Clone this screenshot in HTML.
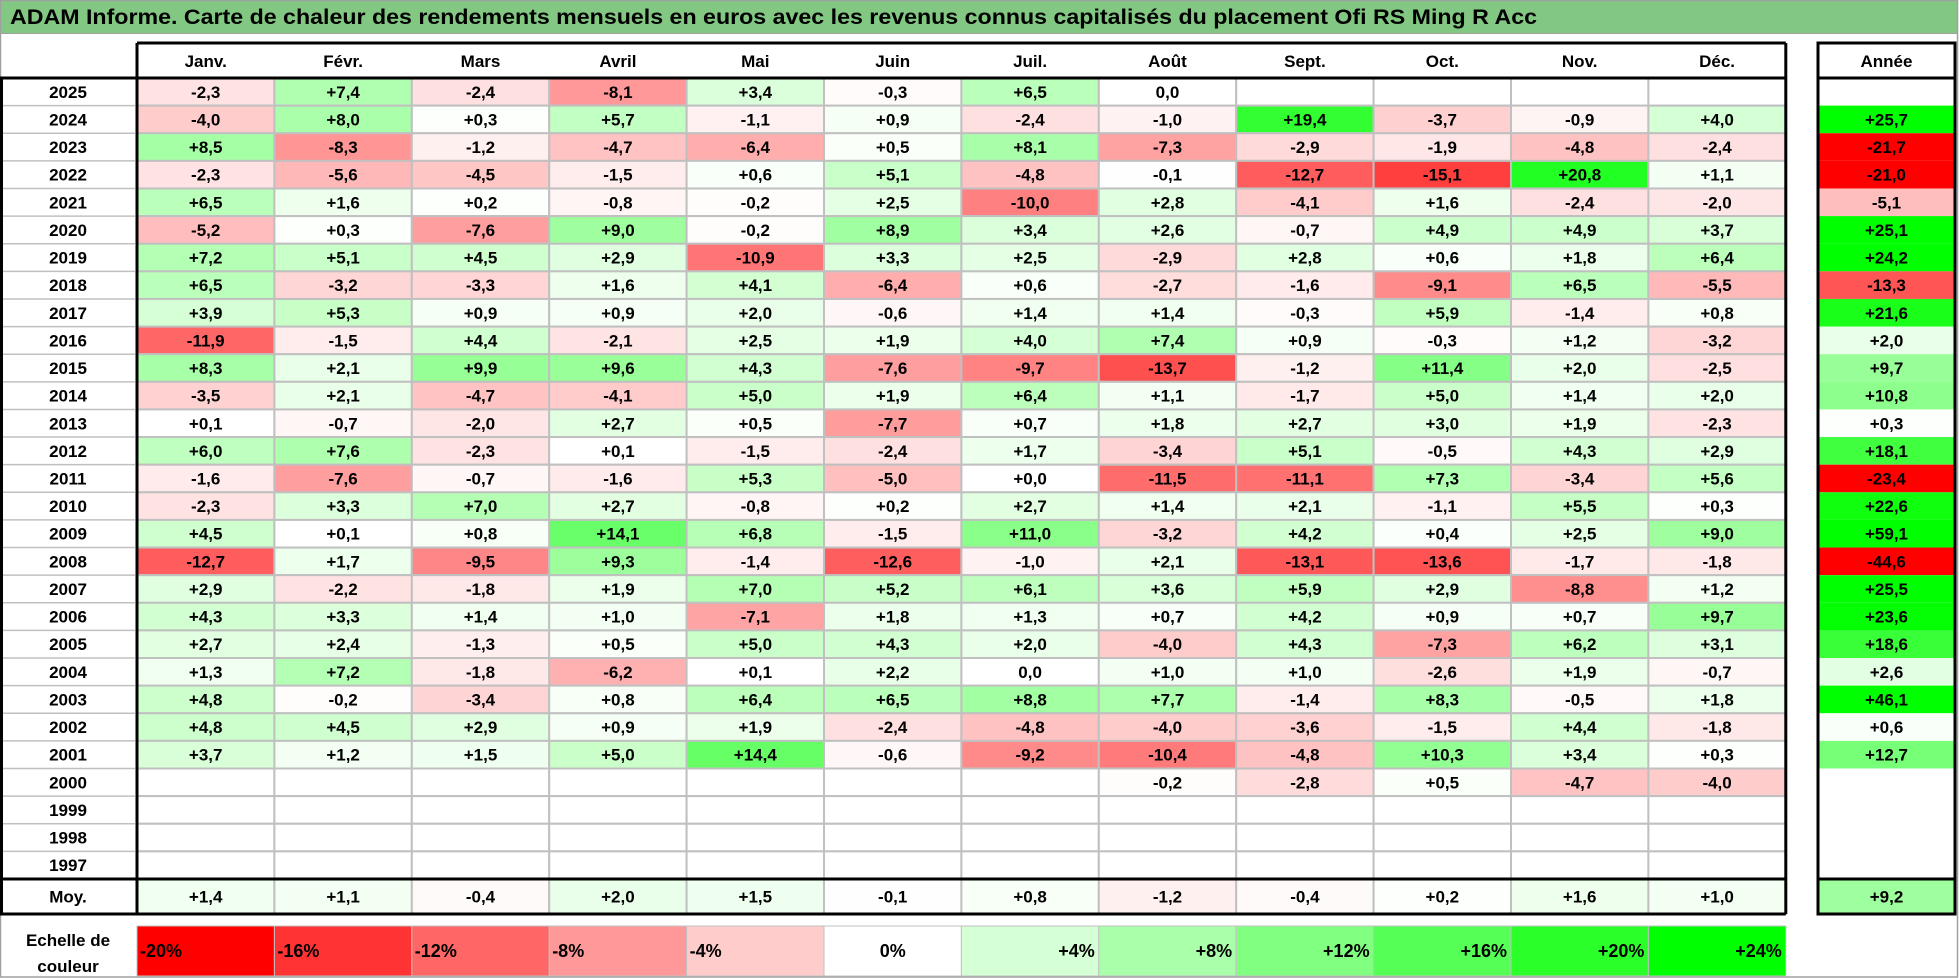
<!DOCTYPE html>
<html><head><meta charset="utf-8"><style>
html,body{margin:0;padding:0;background:#fff;}
svg{display:block;font-family:"Liberation Sans",Arial,sans-serif;font-weight:bold;}
</style></head><body>
<svg id="chart" width="1959" height="978" viewBox="0 0 1959 978"></svg>
<script>
const months = ["Janv.","Févr.","Mars","Avril","Mai","Juin","Juil.","Août","Sept.","Oct.","Nov.","Déc."];
const years = ["2025","2024","2023","2022","2021","2020","2019","2018","2017","2016","2015","2014","2013","2012","2011","2010","2009","2008","2007","2006","2005","2004","2003","2002","2001","2000","1999","1998","1997"];
const N = null;
const monthly = [
[-2.3,7.4,-2.4,-8.1,3.4,-0.3,6.5,0.0,N,N,N,N],
[-4.0,8.0,0.3,5.7,-1.1,0.9,-2.4,-1.0,19.4,-3.7,-0.9,4.0],
[8.5,-8.3,-1.2,-4.7,-6.4,0.5,8.1,-7.3,-2.9,-1.9,-4.8,-2.4],
[-2.3,-5.6,-4.5,-1.5,0.6,5.1,-4.8,-0.1,-12.7,-15.1,20.8,1.1],
[6.5,1.6,0.2,-0.8,-0.2,2.5,-10.0,2.8,-4.1,1.6,-2.4,-2.0],
[-5.2,0.3,-7.6,9.0,-0.2,8.9,3.4,2.6,-0.7,4.9,4.9,3.7],
[7.2,5.1,4.5,2.9,-10.9,3.3,2.5,-2.9,2.8,0.6,1.8,6.4],
[6.5,-3.2,-3.3,1.6,4.1,-6.4,0.6,-2.7,-1.6,-9.1,6.5,-5.5],
[3.9,5.3,0.9,0.9,2.0,-0.6,1.4,1.4,-0.3,5.9,-1.4,0.8],
[-11.9,-1.5,4.4,-2.1,2.5,1.9,4.0,7.4,0.9,-0.3,1.2,-3.2],
[8.3,2.1,9.9,9.6,4.3,-7.6,-9.7,-13.7,-1.2,11.4,2.0,-2.5],
[-3.5,2.1,-4.7,-4.1,5.0,1.9,6.4,1.1,-1.7,5.0,1.4,2.0],
[0.1,-0.7,-2.0,2.7,0.5,-7.7,0.7,1.8,2.7,3.0,1.9,-2.3],
[6.0,7.6,-2.3,0.1,-1.5,-2.4,1.7,-3.4,5.1,-0.5,4.3,2.9],
[-1.6,-7.6,-0.7,-1.6,5.3,-5.0,0.01,-11.5,-11.1,7.3,-3.4,5.6],
[-2.3,3.3,7.0,2.7,-0.8,0.2,2.7,1.4,2.1,-1.1,5.5,0.3],
[4.5,0.1,0.8,14.1,6.8,-1.5,11.0,-3.2,4.2,0.4,2.5,9.0],
[-12.7,1.7,-9.5,9.3,-1.4,-12.6,-1.0,2.1,-13.1,-13.6,-1.7,-1.8],
[2.9,-2.2,-1.8,1.9,7.0,5.2,6.1,3.6,5.9,2.9,-8.8,1.2],
[4.3,3.3,1.4,1.0,-7.1,1.8,1.3,0.7,4.2,0.9,0.7,9.7],
[2.7,2.4,-1.3,0.5,5.0,4.3,2.0,-4.0,4.3,-7.3,6.2,3.1],
[1.3,7.2,-1.8,-6.2,0.1,2.2,0.0,1.0,1.0,-2.6,1.9,-0.7],
[4.8,-0.2,-3.4,0.8,6.4,6.5,8.8,7.7,-1.4,8.3,-0.5,1.8],
[4.8,4.5,2.9,0.9,1.9,-2.4,-4.8,-4.0,-3.6,-1.5,4.4,-1.8],
[3.7,1.2,1.5,5.0,14.4,-0.6,-9.2,-10.4,-4.8,10.3,3.4,0.3],
[N,N,N,N,N,N,N,-0.2,-2.8,0.5,-4.7,-4.0],
[N,N,N,N,N,N,N,N,N,N,N,N],
[N,N,N,N,N,N,N,N,N,N,N,N],
[N,N,N,N,N,N,N,N,N,N,N,N]];
const annual = [N,25.7,-21.7,-21.0,-5.1,25.1,24.2,-13.3,21.6,2.0,9.7,10.8,0.3,18.1,-23.4,22.6,59.1,-44.6,25.5,23.6,18.6,2.6,46.1,0.6,12.7,N,N,N,N];
const averages = [1.4,1.1,-0.4,2.0,1.5,-0.1,0.8,-1.2,-0.4,0.2,1.6,1.0];
const averageYear = 9.2;
const scaleValues = [-20,-16,-12,-8,-4,0,4,8,12,16,20,24];

const NS="http://www.w3.org/2000/svg";
const svg=document.getElementById('chart');
function el(tag,attrs,parent){const e=document.createElementNS(NS,tag);for(const k in attrs)e.setAttribute(k,attrs[k]);(parent||svg).appendChild(e);return e;}
const X0=137, CW=137.4, Y0=78, RH=27.62, AX=1818, AW=137;
const colX=i=>X0+i*CW;
const rowY=r=>Y0+r*RH;
function color(v){
  if(v===null) return "#ffffff";
  if(v<0){const t=Math.min(1,-v/20);const c=Math.round(255*(1-t));return `rgb(255,${c},${c})`;}
  const t=Math.min(1,v/24);const c=Math.round(255*(1-t));return `rgb(${c},255,${c})`;
}
function fmt(v){if(v===null)return "";const s=Math.abs(v).toFixed(1).replace('.',',');if(v>0)return "+"+s;if(v<0&&Math.abs(v)>=0.05)return "-"+s;return s;}
function txt(x,y,s,anchor,size,parent){const t=el('text',{x:x,y:y,'text-anchor':anchor||'middle','font-size':size||17,fill:'#000'},parent);t.textContent=s;return t;}

// title bar
const tb=el('rect',{x:0.5,y:0.5,width:1957,height:33,fill:'#82c882',stroke:'#a0a0a0'});


const tt=txt(10,24,"ADAM Informe. Carte de chaleur des rendements mensuels en euros avec les revenus connus capitalisés du placement Ofi RS Ming R Acc",'start',21);
tt.setAttribute('textLength','1527');
tt.setAttribute('lengthAdjust','spacingAndGlyphs');


// outer border
el('rect',{x:0.5,y:0.5,width:1957,height:976.5,fill:'none',stroke:'#a0a0a0','stroke-width':1.5});

// header
months.forEach((m,i)=>{
  const t=txt(colX(i)+CW/2,67,m,'middle',17);
  
  
});
const ah=txt(AX+AW/2,67,"Année",'middle',17);



// cells
years.forEach((y,r)=>{
  const yl=txt(68,rowY(r)+RH/2+6,y,'middle',17);
  
  
  monthly[r].forEach((v,i)=>{
    const c=el('rect',{x:colX(i),y:rowY(r),width:CW,height:RH,fill:color(v),stroke:'#c0c0c0','stroke-width':2});
    
    
    if(v!==null){const t=txt(colX(i)+CW/2,rowY(r)+RH/2+6,fmt(v));
      
      }
  });
  const a=annual[r];
  const ac=el('rect',{x:AX,y:rowY(r),width:AW,height:RH,fill:color(a)});
  
  
  if(a!==null){const t=txt(AX+AW/2,rowY(r)+RH/2+6,fmt(a));
    
    }
});
// averages
const MY=879, MH=35;
const ml=txt(68,MY+MH/2+6,"Moy.",'middle',17);


averages.forEach((v,i)=>{
  const c=el('rect',{x:colX(i),y:MY,width:CW,height:MH,fill:color(v),stroke:'#c0c0c0','stroke-width':2});
  
  
  const t=txt(colX(i)+CW/2,MY+MH/2+6,fmt(v));
  
  
});
const ayc=el('rect',{x:AX,y:MY,width:AW,height:MH,fill:color(averageYear)});


const ayt=txt(AX+AW/2,MY+MH/2+6,fmt(averageYear));



// black borders main table
const B={stroke:'#000','stroke-width':3,fill:'none'};
el('line',Object.assign({x1:X0,y1:43,x2:colX(12),y2:43},B));
el('line',Object.assign({x1:0,y1:Y0,x2:colX(12),y2:Y0},B));
el('line',Object.assign({x1:1.5,y1:Y0,x2:1.5,y2:MY+MH},B));
el('line',Object.assign({x1:X0,y1:43,x2:X0,y2:MY+MH},B));
el('line',Object.assign({x1:colX(12),y1:43,x2:colX(12),y2:MY+MH},B));
el('line',Object.assign({x1:0,y1:MY,x2:colX(12),y2:MY},B));
el('line',Object.assign({x1:0,y1:MY+MH,x2:colX(12),y2:MY+MH},B));
// year column separators (light)
for(let r=1;r<years.length;r++) el('line',{x1:3,y1:rowY(r),x2:X0-2,y2:rowY(r),stroke:'#c0c0c0','stroke-width':1.5});
// annual box
el('rect',Object.assign({x:AX,y:43,width:AW,height:MY+MH-43},B));
el('line',Object.assign({x1:AX,y1:Y0,x2:AX+AW,y2:Y0},B));
el('line',Object.assign({x1:AX,y1:MY,x2:AX+AW,y2:MY},B));

// color scale
const SY=926, SH=50;
const s1=txt(68,SY+20,"Echelle de",'middle',17);


txt(68,SY+46,"couleur",'middle',17);
scaleValues.forEach((v,i)=>{
  const c=el('rect',{x:colX(i),y:SY,width:CW,height:SH,fill:color(v),stroke:'#c0c0c0','stroke-width':1});
  
  
  const lab=(v>0?'+':'')+v+'%';
  let t;
  if(v<0) t=txt(colX(i)+3,SY+SH/2+6,lab,'start',18);
  else if(v===0) t=txt(colX(i)+CW/2,SY+SH/2+6,lab,'middle',18);
  else t=txt(colX(i)+CW-4,SY+SH/2+6,lab,'end',18);
  
  
});
</script>
</body></html>
